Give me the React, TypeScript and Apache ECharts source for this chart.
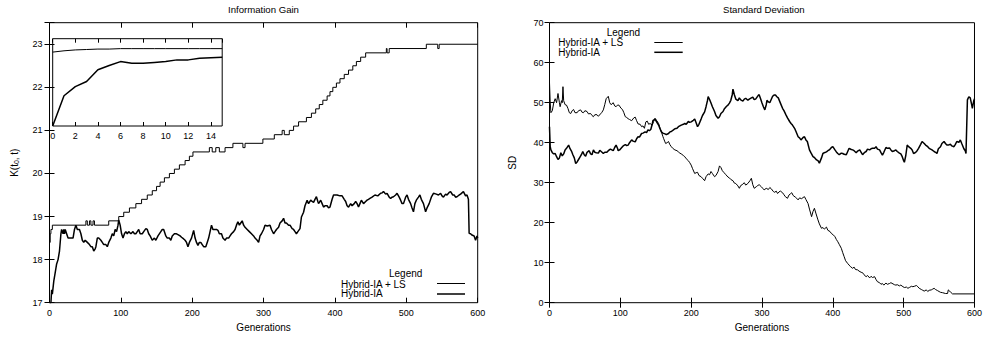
import React, { useEffect, useRef } from "react";
import * as echarts from "echarts";

// ---------- data (generation, value) ----------
const genTicksMain = [0, 100, 200, 300, 400, 500, 600];

// Information Gain – Hybrid-IA + LS (staircase, thin)
const igHybridLS: number[][] = [
  [0, 18.4], [1, 18.6], [2, 18.7], [4, 18.8], [51, 18.9], [53, 18.8], [56, 18.9], [58, 18.8],
  [61, 18.9], [63, 18.8], [83, 18.9], [97, 19.0], [104, 19.1], [112, 19.2], [121, 19.3],
  [129, 19.4], [137, 19.5], [144, 19.6], [150, 19.7], [155, 19.8], [161, 19.9], [168, 20.0],
  [175, 20.1], [182, 20.2], [190, 20.3], [196, 20.4], [201, 20.5], [224, 20.6], [228, 20.5],
  [233, 20.6], [238, 20.5], [246, 20.6], [257, 20.7], [271, 20.6], [274, 20.7], [299, 20.8],
  [315, 20.9], [326, 21.0], [329, 20.9], [336, 21.0], [342, 21.1], [349, 21.2], [360, 21.3],
  [367, 21.4], [373, 21.5], [378, 21.6], [383, 21.7], [389, 21.8], [393, 21.9], [397, 22.0],
  [402, 22.1], [407, 22.2], [413, 22.3], [419, 22.4], [425, 22.5], [430, 22.6], [436, 22.7],
  [443, 22.8], [472, 22.9], [473, 22.8], [476, 22.9], [528, 23.0], [544, 22.9], [546, 23.0],
  [600, 23.0],
];

// Information Gain – Hybrid-IA (thick)
const igHybrid: number[][] = [
  [0, 17.0], [2, 17.0], [3, 17.3], [4, 17.2], [6, 17.5], [8, 17.7], [10, 17.9], [12, 18.0],
  [14, 18.2], [16, 18.6], [17, 18.7], [19, 18.6], [20, 18.7], [21, 18.6], [22, 18.7], [24, 18.6],
  [26, 18.5], [30, 18.5], [33, 18.5], [35, 18.7], [37, 18.8], [39, 18.7], [42, 18.7], [44, 18.6],
  [46, 18.45], [48, 18.4], [50, 18.45], [53, 18.4], [56, 18.35], [58, 18.3], [60, 18.3],
  [62, 18.2], [64, 18.25], [65, 18.3], [67, 18.5], [69, 18.5], [72, 18.45], [74, 18.4],
  [76, 18.35], [79, 18.35], [81, 18.3], [83, 18.4], [86, 18.5], [88, 18.6], [90, 18.55],
  [92, 18.7], [94, 18.65], [96, 18.8], [97, 18.92], [99, 18.8], [101, 18.6], [103, 18.5],
  [105, 18.6], [107, 18.65], [109, 18.6], [111, 18.65], [114, 18.6], [117, 18.65], [119, 18.6],
  [121, 18.6], [123, 18.65], [125, 18.7], [127, 18.6], [130, 18.6], [132, 18.65], [135, 18.72],
  [137, 18.7], [139, 18.6], [141, 18.55], [144, 18.45], [147, 18.5], [149, 18.45], [152, 18.55],
  [156, 18.65], [158, 18.7], [160, 18.7], [163, 18.55], [165, 18.5], [168, 18.5], [170, 18.45],
  [172, 18.55], [175, 18.6], [178, 18.6], [180, 18.58], [183, 18.55], [185, 18.52], [188, 18.48],
  [190, 18.45], [192, 18.4], [194, 18.3], [196, 18.4], [199, 18.5], [201, 18.62], [202, 18.68],
  [204, 18.5], [206, 18.4], [208, 18.33], [210, 18.4], [212, 18.4], [214, 18.35], [216, 18.3],
  [219, 18.3], [221, 18.4], [223, 18.5], [225, 18.65], [227, 18.8], [229, 18.7], [232, 18.7],
  [234, 18.7], [236, 18.68], [238, 18.6], [241, 18.6], [243, 18.5], [246, 18.45], [248, 18.5],
  [251, 18.5], [253, 18.55], [255, 18.6], [258, 18.65], [260, 18.7], [262, 18.8], [264, 18.88],
  [266, 18.8], [268, 18.85], [270, 18.9], [272, 18.8], [274, 18.75], [277, 18.7], [280, 18.65],
  [283, 18.6], [286, 18.55], [288, 18.5], [291, 18.45], [293, 18.4], [295, 18.55], [297, 18.6],
  [300, 18.7], [302, 18.8], [305, 18.78], [309, 18.8], [311, 18.7], [314, 18.6], [316, 18.65],
  [318, 18.7], [321, 18.75], [323, 18.85], [326, 18.9], [328, 18.96], [330, 18.85], [332, 18.85],
  [335, 18.8], [337, 18.8], [340, 18.72], [342, 18.7], [344, 18.65], [346, 18.6], [348, 18.65],
  [351, 18.72], [353, 18.99], [356, 19.1], [358, 19.25], [361, 19.38], [363, 19.3], [366, 19.38],
  [368, 19.35], [370, 19.33], [372, 19.4], [374, 19.46], [376, 19.35], [377, 19.3], [380, 19.38],
  [382, 19.3], [384, 19.22], [386, 19.25], [389, 19.25], [391, 19.2], [393, 19.22], [396, 19.4],
  [398, 19.5], [403, 19.5], [407, 19.48], [410, 19.48], [413, 19.4], [415, 19.35], [417, 19.25],
  [419, 19.22], [422, 19.3], [424, 19.25], [427, 19.3], [429, 19.35], [431, 19.3], [433, 19.22],
  [435, 19.3], [437, 19.38], [440, 19.3], [443, 19.35], [445, 19.38], [447, 19.4], [449, 19.42],
  [452, 19.45], [456, 19.5], [460, 19.48], [464, 19.54], [466, 19.55], [468, 19.58], [471, 19.52],
  [473, 19.54], [476, 19.45], [478, 19.42], [480, 19.45], [482, 19.46], [485, 19.5], [487, 19.54],
  [490, 19.45], [492, 19.38], [494, 19.3], [496, 19.3], [499, 19.45], [501, 19.5], [503, 19.4],
  [506, 19.3], [508, 19.2], [510, 19.11], [512, 19.3], [514, 19.38], [517, 19.45], [519, 19.5],
  [521, 19.4], [524, 19.3], [527, 19.11], [529, 19.2], [532, 19.3], [535, 19.45], [538, 19.54],
  [542, 19.52], [545, 19.5], [548, 19.54], [550, 19.48], [552, 19.45], [555, 19.52], [557, 19.5],
  [560, 19.56], [562, 19.58], [565, 19.5], [567, 19.5], [569, 19.45], [571, 19.46], [574, 19.5],
  [576, 19.52], [578, 19.55], [580, 19.58], [583, 19.48], [585, 19.5], [587, 19.4], [588, 18.61],
  [590, 18.6], [592, 18.57], [595, 18.55], [597, 18.45], [599, 18.55], [600, 18.5],
];

// Inset (generations 0..15)
const insetGen = [0, 1, 2, 3, 4, 5, 6, 7, 8, 9, 10, 11, 12, 13, 14, 15];
const insetHybridLS = [22.81, 22.84, 22.86, 22.87, 22.88, 22.88, 22.89, 22.89, 22.89, 22.89, 22.89, 22.89, 22.89, 22.89, 22.89, 22.89];
const insetHybrid = [21.1, 21.8, 22.01, 22.13, 22.4, 22.5, 22.59, 22.55, 22.55, 22.57, 22.59, 22.63, 22.63, 22.67, 22.68, 22.69];

// Standard Deviation – Hybrid-IA + LS (thin)
const sdHybridLS: number[][] = [
  [0, 55], [1, 50], [2, 47.5], [4, 48], [6, 50], [8, 51], [10, 50], [12, 52.3], [14, 50], [15, 49],
  [17, 50.5], [18, 50], [19, 54], [20, 50.5], [22, 49.5], [24, 49.4], [26, 48.6], [28, 47.5],
  [30, 47.3], [32, 48], [34, 48.3], [36, 47.5], [39, 47.5], [41, 48], [44, 48.2], [46, 47.6],
  [48, 47.5], [50, 48], [53, 47.8], [55, 47.2], [58, 47.3], [60, 46.8], [62, 46.5], [64, 47],
  [67, 47], [69, 46.6], [72, 47.2], [74, 47.6], [76, 48.2], [78, 49.5], [80, 51], [83, 51.6],
  [85, 50], [87, 49.5], [90, 50], [92, 49.2], [94, 49], [96, 49.4], [98, 49.4], [101, 48.6],
  [103, 48.3], [105, 47.5], [107, 46.5], [109, 46.3], [111, 46], [113, 45.8], [116, 45.5],
  [119, 46.2], [121, 46.4], [123, 45.5], [125, 44.7], [128, 44.6], [130, 44], [132, 44.2],
  [134, 43.6], [136, 45.2], [138, 45.4], [140, 44.6], [142, 44.8], [145, 44.4], [147, 45.3],
  [149, 46.1], [151, 45.6], [154, 44.8], [156, 43.7], [158, 42.7], [160, 41.6], [161, 41.1],
  [163, 40.2], [164, 39.8], [166, 40], [168, 40.3], [170, 39.5], [172, 39], [174, 38.6],
  [177, 38.2], [180, 38], [182, 37.7], [184, 37.4], [186, 37.2], [189, 36.8], [191, 36.5],
  [193, 36], [196, 35.5], [198, 35], [200, 34.4], [202, 33.5], [205, 32.3], [207, 32.5],
  [209, 32.6], [211, 31.8], [214, 31.5], [216, 31.1], [219, 30.5], [221, 31.5], [224, 32.2],
  [226, 32], [228, 32.8], [230, 32.3], [233, 31.5], [235, 31.8], [238, 32.8], [240, 34.2],
  [242, 33.8], [244, 33], [246, 32.6], [249, 32], [252, 31.4], [254, 31.2], [256, 30.8],
  [259, 30.5], [261, 29.9], [263, 29.8], [266, 29.2], [268, 28.6], [270, 29.3], [272, 29.5],
  [275, 30], [277, 29.4], [280, 29.8], [283, 30.5], [285, 31.1], [287, 29.5], [289, 28.6],
  [292, 29], [294, 29.3], [296, 29.5], [299, 29], [301, 28.6], [303, 28.2], [306, 28.6],
  [309, 28.3], [311, 28.8], [313, 28.5], [316, 27.8], [318, 27.6], [320, 27.9], [322, 27.3],
  [324, 27.7], [326, 27.9], [329, 27.5], [331, 27], [333, 26.5], [336, 26.1], [338, 26.9],
  [340, 27.2], [342, 27.5], [344, 26.8], [347, 26.4], [349, 26.1], [351, 25.7], [353, 26.2],
  [356, 26], [358, 26.3], [360, 26.5], [362, 25.8], [365, 24.8], [367, 23.4], [370, 21.5],
  [372, 22.8], [374, 23.6], [376, 22.4], [379, 20.7], [381, 19.7], [384, 18.6], [386, 18.8],
  [388, 18.4], [391, 18.9], [393, 18.1], [396, 17.8], [398, 17.3], [401, 16.9], [403, 16.5],
  [405, 15.8], [407, 15.25], [409, 14.6], [412, 13.6], [414, 12.5], [416, 11.5], [418, 10.5],
  [421, 9.8], [423, 9.4], [425, 9], [428, 8.6], [430, 8.9], [432, 8.3], [435, 8.2], [437, 7.9],
  [440, 7.6], [442, 7.5], [444, 7], [447, 6.5], [449, 6.8], [452, 6.2], [454, 6.6], [456, 6.3],
  [459, 6.5], [461, 5.8], [463, 5.25], [466, 5], [468, 4.6], [470, 4.8], [472, 4.4], [475, 4.9],
  [477, 4.6], [480, 4.8], [482, 5], [485, 4.7], [487, 4.5], [489, 4.4], [491, 4.5], [494, 4.2],
  [496, 4.4], [499, 4], [501, 3.8], [504, 3.9], [506, 3.6], [508, 3.8], [511, 4.1], [513, 4],
  [515, 4.1], [518, 4.3], [520, 4], [522, 3.6], [525, 3.3], [527, 3.1], [529, 2.9], [532, 3.2],
  [534, 2.8], [536, 3.1], [539, 3.2], [541, 3.4], [543, 3.6], [545, 3.3], [548, 3], [550, 2.8],
  [552, 2.6], [555, 2.5], [557, 2.4], [559, 2.3], [562, 2.3], [563, 3.2], [565, 2.9], [567, 2.5],
  [569, 2.2], [600, 2.2],
];

// Standard Deviation – Hybrid-IA (thick)
const sdHybrid: number[][] = [
  [0, 44], [1, 39], [2, 38.2], [4, 37.5], [6, 37.2], [8, 37.3], [10, 36.5], [12, 35.8], [14, 36.2],
  [16, 37.5], [18, 36.7], [20, 37.2], [22, 38.2], [24, 38.6], [27, 39.4], [29, 38.5], [31, 37.9],
  [33, 37], [35, 36.2], [37, 34.8], [39, 35.2], [41, 35.8], [43, 36.4], [45, 37], [47, 37.8],
  [49, 37], [51, 36.6], [53, 37.6], [56, 38], [58, 37.2], [60, 37], [62, 38.2], [64, 37.6],
  [66, 37.5], [69, 37.4], [71, 38.1], [73, 37.8], [76, 37.3], [78, 37.6], [81, 37.6], [83, 38],
  [86, 38.4], [88, 38.2], [90, 38], [92, 38.8], [94, 39.4], [96, 38.6], [97, 38], [99, 38.2],
  [102, 38.8], [104, 39.2], [107, 39.5], [109, 39.3], [111, 39.4], [113, 40], [116, 40.7],
  [118, 40.4], [121, 40.2], [123, 41], [125, 41.5], [127, 41.4], [130, 42.3], [132, 42.4],
  [135, 42.7], [137, 42.5], [139, 43.2], [141, 43], [143, 43.3], [145, 44.6], [146, 45.5],
  [149, 45.9], [151, 45.3], [154, 44.4], [156, 43.5], [158, 42.7], [160, 42.4], [163, 42.2],
  [165, 42], [168, 42.3], [170, 42.7], [172, 42.8], [175, 43.2], [177, 43.5], [180, 43.6],
  [182, 44], [184, 44.2], [186, 44.4], [189, 44.6], [191, 44.8], [193, 44.6], [196, 45.3],
  [198, 45.1], [200, 45.2], [203, 45.6], [205, 45.9], [207, 45], [209, 44], [211, 44.6],
  [214, 45.9], [216, 46.8], [219, 47.7], [221, 49], [223, 50.5], [224, 51.5], [226, 50.8],
  [228, 49.9], [230, 49], [233, 47.8], [235, 46.8], [238, 46.1], [240, 46.5], [242, 47.3],
  [245, 47.8], [247, 48.5], [250, 49.1], [252, 49.4], [254, 49.9], [256, 50.6], [258, 52],
  [259, 53.4], [261, 52], [263, 50.9], [266, 50.5], [268, 51.2], [270, 50.7], [273, 50.4],
  [275, 50.9], [277, 51.1], [280, 50.6], [282, 50.9], [285, 51.2], [287, 51.4], [289, 50.8],
  [291, 50.9], [293, 51.4], [295, 51.9], [296, 52], [298, 51], [300, 49.9], [302, 49], [304, 48.2],
  [306, 49.5], [307, 50.6], [309, 50.2], [311, 50], [313, 50.8], [315, 51.6], [317, 51.9],
  [319, 51.9], [321, 51.5], [323, 51.2], [326, 49.9], [329, 48.6], [331, 48], [334, 46.9],
  [336, 46.2], [339, 45.3], [341, 44.8], [343, 44.4], [346, 43.6], [348, 42.8], [351, 41.5],
  [353, 41.2], [355, 40.7], [358, 41.3], [360, 41.5], [362, 40.7], [364, 40.3], [367, 38.2],
  [369, 37.5], [372, 36.5], [374, 36.3], [377, 35.7], [379, 35.5], [381, 34.9], [384, 36.2],
  [386, 37.3], [388, 37.5], [391, 37.7], [393, 38], [395, 38.2], [398, 38.8], [400, 39],
  [403, 38.2], [405, 37.7], [407, 37.3], [409, 37], [412, 37.4], [414, 37.3], [416, 37.1],
  [419, 37], [421, 37.8], [423, 38.6], [426, 38.3], [428, 38.2], [430, 38], [433, 37.5],
  [435, 37.9], [438, 38.2], [440, 37.6], [442, 37], [445, 37.6], [447, 37.8], [449, 38.4],
  [452, 38.2], [454, 38.5], [456, 38.6], [459, 38.6], [461, 39], [463, 38.4], [466, 38.2],
  [468, 37.5], [470, 36.9], [472, 37.6], [475, 38.8], [477, 38.6], [480, 38.7], [482, 38.2],
  [484, 37.8], [487, 38], [489, 38.2], [491, 37.8], [494, 37.4], [496, 37.2], [498, 36.5],
  [500, 35.5], [501, 35.1], [503, 36.8], [505, 39.4], [507, 39], [510, 38.6], [512, 38.2],
  [514, 37.3], [517, 37.6], [519, 38], [521, 38.6], [524, 39.6], [526, 40.3], [529, 39.8],
  [531, 39.4], [534, 39], [536, 38.6], [538, 38.4], [540, 38.2], [543, 37.8], [545, 37.6],
  [547, 37.3], [549, 38.5], [552, 39], [554, 39.8], [557, 40.3], [559, 39.8], [561, 39.4],
  [563, 39.4], [566, 39.6], [568, 39.2], [571, 39], [573, 39.6], [575, 40.3], [578, 40.1],
  [580, 40.7], [582, 39.8], [585, 38.5], [587, 38], [588, 37.3], [590, 50.7], [592, 51.5],
  [594, 51.2], [596, 49.5], [597, 48.6], [599, 50.5], [600, 51],
];

const seriesNames = ["Hybrid-IA + LS", "Hybrid-IA"];
const chartTitles = ["Information Gain", "Standard Deviation"];

const FONT = "'Liberation Sans', Arial, Helvetica, sans-serif";
const THIN = 1;
const THICK = 1.5;

export default function App() {
  const ref = useRef<HTMLDivElement>(null);

  useEffect(() => {
    document.body.style.margin = "0";
    if (!ref.current) return;
    const chart = echarts.init(ref.current, undefined, { renderer: "svg" });

    const tickLabel = { color: "#000", fontFamily: FONT, fontSize: 9 };
    const nameStyle = { color: "#000", fontFamily: FONT, fontSize: 10 };
    const tickIn = (len: number) => ({ show: true, inside: true, length: len, lineStyle: { color: "#000", width: 1 } });

    const mainX = (gridIndex: number, bottom: boolean) => ({
      type: "value",
      gridIndex,
      position: bottom ? "bottom" : "top",
      min: genTicksMain[0],
      max: genTicksMain[genTicksMain.length - 1],
      interval: 100,
      axisLine: { show: false },
      axisTick: tickIn(5),
      splitLine: { show: false },
      axisLabel: bottom ? { ...tickLabel, margin: 6 } : { show: false },
      name: bottom ? "Generations" : "",
      nameLocation: "middle",
      nameGap: 19,
      nameTextStyle: nameStyle,
    });

    const option: any = {
      animation: false,
      backgroundColor: "#fff",
      grid: [
        { left: 49.5, top: 22.7, width: 428.2, height: 280, show: true, borderColor: "#000", borderWidth: 1, backgroundColor: "transparent" },
        { left: 549.5, top: 22.7, width: 428.2, height: 280, show: true, borderColor: "#000", borderWidth: 1, backgroundColor: "transparent" },
        { left: 52.7, top: 38.7, width: 169.5, height: 87.3, show: true, borderColor: "#000", borderWidth: 1, backgroundColor: "transparent" },
      ],
      xAxis: [
        mainX(0, true),
        mainX(0, false),
        mainX(1, true),
        mainX(1, false),
        {
          type: "value", gridIndex: 2, position: "bottom", min: 0, max: 15, interval: 2,
          axisLine: { show: false }, axisTick: tickIn(4), splitLine: { show: false },
          axisLabel: { ...tickLabel, margin: 5, showMaxLabel: false },
        },
        {
          type: "value", gridIndex: 2, position: "top", min: 0, max: 15, interval: 2,
          axisLine: { show: false }, axisTick: tickIn(4), splitLine: { show: false },
          axisLabel: { show: false },
        },
      ],
      yAxis: [
        {
          type: "value", gridIndex: 0, position: "left", min: 17, max: 23.5, interval: 1,
          axisLine: { show: false }, axisTick: tickIn(5), splitLine: { show: false },
          axisLabel: { ...tickLabel, margin: 7, formatter: (v: number) => (Number.isInteger(v) ? String(v) : "") },
          name: "{n|K(t}{s|0}{n|, t)}",
          nameLocation: "middle",
          nameGap: 30,
          nameTextStyle: {
            ...nameStyle,
            rich: {
              n: { fontFamily: FONT, fontSize: 10, color: "#000" },
              s: { fontFamily: FONT, fontSize: 7, color: "#000", verticalAlign: "bottom", padding: [4, 0, 0, 0] },
            },
          },
        },
        {
          type: "value", gridIndex: 0, position: "right", min: 17, max: 23.5, interval: 1,
          axisLine: { show: false }, axisTick: tickIn(5), splitLine: { show: false },
          axisLabel: { show: false },
        },
        {
          type: "value", gridIndex: 1, position: "left", min: 0, max: 70, interval: 10,
          axisLine: { show: false }, axisTick: tickIn(5), splitLine: { show: false },
          axisLabel: { ...tickLabel, margin: 6 },
          name: "SD", nameLocation: "middle", nameGap: 32, nameTextStyle: nameStyle,
        },
        {
          type: "value", gridIndex: 1, position: "right", min: 0, max: 70, interval: 10,
          axisLine: { show: false }, axisTick: tickIn(5), splitLine: { show: false },
          axisLabel: { show: false },
        },
        {
          type: "value", gridIndex: 2, position: "left", min: 21.1, max: 23.12,
          axisLine: { show: false }, axisTick: { show: false }, splitLine: { show: false },
          axisLabel: { show: false },
        },
      ],
      series: [
        {
          name: seriesNames[0], type: "line", xAxisIndex: 0, yAxisIndex: 0, step: "end",
          data: igHybridLS, showSymbol: false, symbol: "none",
          lineStyle: { color: "#000", width: THIN },
        },
        {
          name: seriesNames[1], type: "line", xAxisIndex: 0, yAxisIndex: 0,
          data: igHybrid, showSymbol: false, symbol: "none",
          lineStyle: { color: "#000", width: THICK },
        },
        {
          name: seriesNames[0], type: "line", xAxisIndex: 2, yAxisIndex: 2,
          data: sdHybridLS, showSymbol: false, symbol: "none",
          lineStyle: { color: "#000", width: THIN },
        },
        {
          name: seriesNames[1], type: "line", xAxisIndex: 2, yAxisIndex: 2,
          data: sdHybrid, showSymbol: false, symbol: "none",
          lineStyle: { color: "#000", width: THICK },
        },
        {
          name: seriesNames[0], type: "line", xAxisIndex: 4, yAxisIndex: 4,
          data: insetGen.map((g, i) => [g, insetHybridLS[i]]), showSymbol: false, symbol: "none",
          lineStyle: { color: "#000", width: THIN },
        },
        {
          name: seriesNames[1], type: "line", xAxisIndex: 4, yAxisIndex: 4,
          data: insetGen.map((g, i) => [g, insetHybrid[i]]), showSymbol: false, symbol: "none",
          lineStyle: { color: "#000", width: THICK },
        },
      ],
      graphic: [
        {
          type: "text", x: 263.5, y: 9,
          style: { text: chartTitles[0], font: `9.6px ${FONT}`, fill: "#000", align: "center", verticalAlign: "middle", textAlign: "center", textVerticalAlign: "middle" },
        },
        {
          type: "text", x: 763.8, y: 9,
          style: { text: chartTitles[1], font: `9.6px ${FONT}`, fill: "#000", align: "center", verticalAlign: "middle", textAlign: "center", textVerticalAlign: "middle" },
        },
        // left legend
        { type: "text", x: 389, y: 273.3, style: { text: "Legend", font: `10px ${FONT}`, fill: "#000", verticalAlign: "middle", textVerticalAlign: "middle" } },
        { type: "text", x: 341, y: 284, style: { text: seriesNames[0], font: `10px ${FONT}`, fill: "#000", verticalAlign: "middle", textVerticalAlign: "middle" } },
        { type: "text", x: 341, y: 293.5, style: { text: seriesNames[1], font: `10px ${FONT}`, fill: "#000", verticalAlign: "middle", textVerticalAlign: "middle" } },
        { type: "line", shape: { x1: 437, y1: 283.5, x2: 465, y2: 283.5 }, style: { stroke: "#000", lineWidth: THIN } },
        { type: "line", shape: { x1: 437, y1: 294, x2: 465, y2: 294 }, style: { stroke: "#000", lineWidth: THICK } },
        // right legend
        { type: "text", x: 606.7, y: 32.7, style: { text: "Legend", font: `10px ${FONT}`, fill: "#000", verticalAlign: "middle", textVerticalAlign: "middle" } },
        { type: "text", x: 558.3, y: 42.7, style: { text: seriesNames[0], font: `10px ${FONT}`, fill: "#000", verticalAlign: "middle", textVerticalAlign: "middle" } },
        { type: "text", x: 558.3, y: 52.4, style: { text: seriesNames[1], font: `10px ${FONT}`, fill: "#000", verticalAlign: "middle", textVerticalAlign: "middle" } },
        { type: "line", shape: { x1: 654.3, y1: 42.5, x2: 682.7, y2: 42.5 }, style: { stroke: "#000", lineWidth: THIN } },
        { type: "line", shape: { x1: 654.3, y1: 52.3, x2: 682.7, y2: 52.3 }, style: { stroke: "#000", lineWidth: THICK } },
      ],
    };

    chart.setOption(option);
    return () => chart.dispose();
  }, []);

  return <div ref={ref} style={{ width: 985, height: 339 }} />;
}
